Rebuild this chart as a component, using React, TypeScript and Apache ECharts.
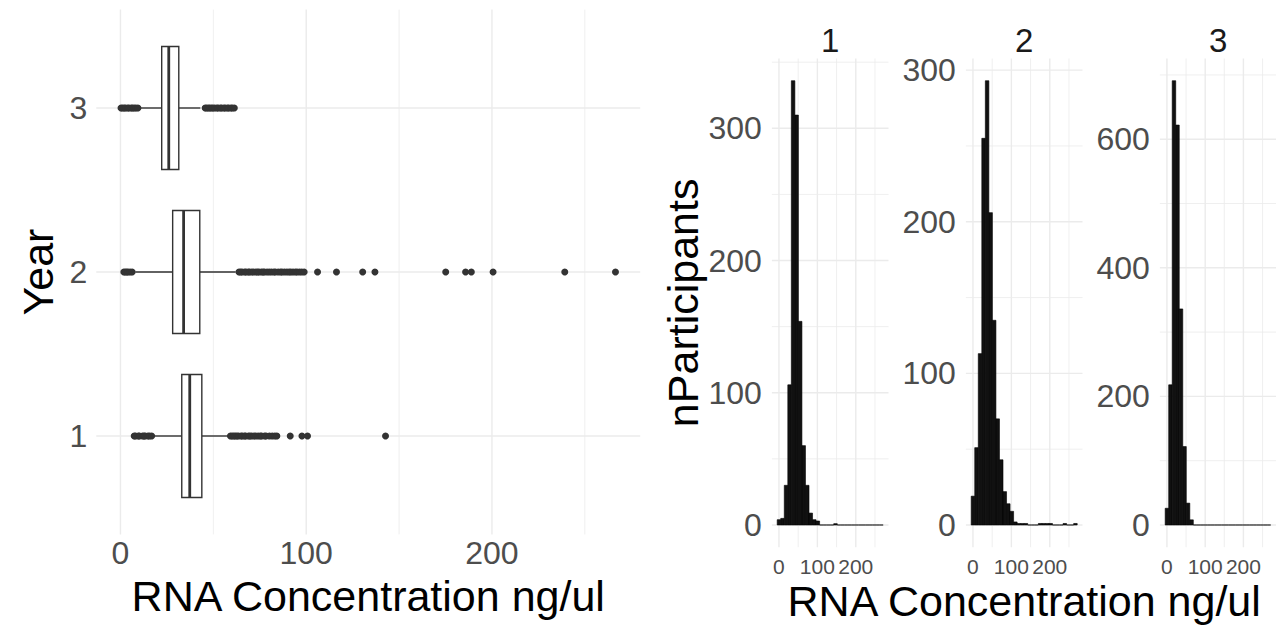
import React, { useEffect, useRef } from 'react';
import * as echarts from 'echarts';

// ---------- data ----------
const YEARS = ['1', '2', '3'];
// [lower whisker, Q1, median, Q3, upper whisker]
const BOX_Y1 = [18, 33, 37.3, 43.8, 58];
const BOX_Y2 = [8, 28.1, 34, 42.7, 62];
const BOX_Y3 = [10.6, 22.2, 26, 31.4, 43];

const OUT_Y1 = [7.4, 8.1, 9.6, 10.2, 11.9, 12.7, 13.3, 14.8, 15.6, 16.8, 59.2, 60.1, 61.0, 61.8, 62.7, 63.5, 64.9, 65.6, 66.8, 67.4, 68.9, 69.7, 70.6, 71.9, 72.8, 74.1, 75.3, 76.0, 77.6, 78.4, 80.2, 81.7, 83.1, 84.2, 91.4, 97.7, 100.7, 142.7];
const OUT_Y2 = [1.8, 2.6, 3.4, 4.1, 5.2, 6.3, 63.8, 64.7, 65.5, 66.9, 67.6, 68.8, 69.5, 70.7, 71.6, 72.9, 73.8, 74.6, 75.9, 76.8, 77.5, 78.9, 80.1, 81.3, 82.6, 83.4, 84.9, 86.2, 87.0, 88.3, 89.6, 90.8, 91.7, 92.9, 94.2, 95.1, 96.4, 97.6, 98.9, 106.1, 116.3, 130.4, 137.0, 175.1, 185.8, 188.9, 200.6, 239.2, 266.5];
const OUT_Y3 = [0.3, 1.1, 2.0, 2.7, 3.9, 4.6, 5.8, 6.5, 7.4, 8.3, 9.4, 45.6, 46.4, 47.3, 48.1, 49.0, 49.8, 50.7, 51.9, 52.6, 53.8, 54.5, 55.7, 56.4, 57.6, 58.3, 59.5, 60.2, 61.3];

const BIN_WIDTH = 9.2;
const BIN_FIRST_EDGE = -4.6;
const COUNTS_Y1 = [4, 5, 30, 106, 336, 310, 154, 60, 30, 9, 4, 3, 0, 0, 0, 0, 1, 0, 0, 0, 0, 0, 0, 0, 0, 0, 0, 0, 0, 0];
const COUNTS_Y2 = [19, 51, 113, 255, 293, 206, 135, 70, 43, 22, 14, 9, 2, 1, 1, 1, 0, 0, 0, 1, 1, 1, 1, 0, 0, 0, 1, 0, 0, 1];
const COUNTS_Y3 = [26, 218, 691, 622, 336, 122, 34, 8, 0, 0, 0, 0, 0, 0, 0, 0, 0, 0, 0, 0, 0, 0, 0, 0, 0, 0, 0, 0, 0, 0];

const BOX_X_TICKS = [0, 100, 200];
const BOX_X_MINOR = [50, 150, 250];
const BOX_Y_TICKS = [1, 2, 3];
const HIST_X_TICKS = [0, 100, 200];
const HIST_X_MINOR = [50, 150, 250];
const HIST_Y_TICKS = [[0, 100, 200, 300], [0, 100, 200, 300], [0, 200, 400, 600]];
const HIST_Y_MINOR = [[50, 150, 250, 350], [50, 150, 250], [100, 300, 500, 700]];

// ---------- style / layout ----------
const FONT = '"Liberation Sans", Arial, Helvetica, sans-serif';
const TICK_COLOR = '#4D4D4D';
const GRID_COLOR = '#EBEBEB';
const BOX_COLOR = '#333333';

const BOX_GRID = { left: 96.3, top: 9.6, width: 543.9, height: 524.8 };
const HIST_LEFTS = [771.9, 965.9, 1159.9];
const HIST_TOP = 58.5;
const HIST_W = 116.6;
const HIST_H = 488.7;

function gridLineSeries(idx: number, dir: 'v' | 'h', values: number[], ref: number, width: number) {
  return {
    type: 'custom',
    xAxisIndex: idx,
    yAxisIndex: idx,
    silent: true,
    z: 1,
    data: values.map((v) => (dir === 'v' ? [v, ref] : [ref, v])),
    encode: { x: 0, y: 1 },
    renderItem: (params: any, api: any) => {
      const cs = params.coordSys;
      const p = api.coord([api.value(0), api.value(1)]);
      const shape =
        dir === 'v'
          ? { x1: p[0], y1: cs.y, x2: p[0], y2: cs.y + cs.height }
          : { x1: cs.x, y1: p[1], x2: cs.x + cs.width, y2: p[1] };
      return { type: 'line', shape, style: { stroke: GRID_COLOR, lineWidth: width } };
    },
  };
}

export default function App() {
  const ref = useRef<HTMLDivElement>(null);

  useEffect(() => {
    if (!ref.current) return;
    const chart = echarts.init(ref.current, undefined, { renderer: 'svg' });

    const boxes = [BOX_Y1, BOX_Y2, BOX_Y3];
    const outs = [OUT_Y1, OUT_Y2, OUT_Y3];
    const counts = [COUNTS_Y1, COUNTS_Y2, COUNTS_Y3];

    const allX = ([] as number[]).concat(...outs, ...boxes);
    const xMin = Math.min(...allX);
    const xMax = Math.max(...allX);
    const xPad = (xMax - xMin) * 0.05;

    const histLo = BIN_FIRST_EDGE;
    const histHi = BIN_FIRST_EDGE + COUNTS_Y1.length * BIN_WIDTH;
    const histPad = (histHi - histLo) * 0.05;

    const boxData = boxes.map((b, i) => [i + 1, ...b]);
    const outData: number[][] = [];
    outs.forEach((arr, i) => arr.forEach((v) => outData.push([v, i + 1])));

    const grids: any[] = [
      { left: BOX_GRID.left, top: BOX_GRID.top, width: BOX_GRID.width, height: BOX_GRID.height },
      ...HIST_LEFTS.map((l) => ({ left: l, top: HIST_TOP, width: HIST_W, height: HIST_H })),
    ];

    const xAxes: any[] = [
      {
        type: 'value',
        gridIndex: 0,
        min: xMin - xPad,
        max: xMax + xPad,
        axisLine: { show: false },
        axisTick: { show: false },
        splitLine: { show: false },
        axisLabel: { customValues: BOX_X_TICKS, fontSize: 32, color: TICK_COLOR, margin: 3, fontFamily: FONT },
        name: 'RNA Concentration ng/ul',
        nameLocation: 'middle',
        nameGap: 26,
        nameTextStyle: { fontSize: 43, color: '#000', fontFamily: FONT },
      },
      ...HIST_LEFTS.map((_, i) => ({
        type: 'value',
        gridIndex: i + 1,
        min: histLo - histPad,
        max: histHi + histPad,
        axisLine: { show: false },
        axisTick: { show: false },
        splitLine: { show: false },
        axisLabel: { customValues: HIST_X_TICKS, fontSize: 21, color: TICK_COLOR, margin: 9, fontFamily: FONT },
      })),
    ];

    const yAxes: any[] = [
      {
        type: 'value',
        gridIndex: 0,
        min: 0.4,
        max: 3.6,
        axisLine: { show: false },
        axisTick: { show: false },
        splitLine: { show: false },
        axisLabel: {
          customValues: BOX_Y_TICKS,
          formatter: (v: number) => YEARS[Math.round(v) - 1],
          fontSize: 32,
          color: TICK_COLOR,
          margin: 9,
          fontFamily: FONT,
        },
        name: 'Year',
        nameLocation: 'middle',
        nameGap: 37,
        nameTextStyle: { fontSize: 43, color: '#000', fontFamily: FONT },
      },
      ...counts.map((c, i) => {
        const m = Math.max(...c);
        return {
          type: 'value',
          gridIndex: i + 1,
          min: -0.05 * m,
          max: 1.05 * m,
          axisLine: { show: false },
          axisTick: { show: false },
          splitLine: { show: false },
          axisLabel: { customValues: HIST_Y_TICKS[i], fontSize: 32, color: TICK_COLOR, margin: 10, fontFamily: FONT },
          ...(i === 0
            ? {
                name: 'nParticipants',
                nameLocation: 'middle',
                nameGap: 67,
                nameTextStyle: { fontSize: 43, color: '#000', fontFamily: FONT },
              }
            : {}),
        };
      }),
    ];

    const series: any[] = [
      gridLineSeries(0, 'v', BOX_X_MINOR, 2, 0.8),
      gridLineSeries(0, 'v', BOX_X_TICKS, 2, 1.4),
      gridLineSeries(0, 'h', BOX_Y_TICKS, 0, 1.4),
      {
        type: 'custom',
        xAxisIndex: 0,
        yAxisIndex: 0,
        z: 3,
        data: boxData,
        encode: { y: 0, x: [1, 2, 3, 4, 5] },
        renderItem: (params: any, api: any) => {
          const y = api.value(0);
          const lo = api.coord([api.value(1), y]);
          const q1 = api.coord([api.value(2), y]);
          const md = api.coord([api.value(3), y]);
          const q3 = api.coord([api.value(4), y]);
          const hi = api.coord([api.value(5), y]);
          const top = api.coord([api.value(2), y + 0.375])[1];
          const bot = api.coord([api.value(2), y - 0.375])[1];
          const ls = { stroke: BOX_COLOR, lineWidth: 1.4 };
          return {
            type: 'group',
            children: [
              { type: 'line', shape: { x1: lo[0], y1: lo[1], x2: q1[0], y2: q1[1] }, style: ls },
              { type: 'line', shape: { x1: q3[0], y1: q3[1], x2: hi[0], y2: hi[1] }, style: ls },
              {
                type: 'rect',
                shape: { x: q1[0], y: top, width: q3[0] - q1[0], height: bot - top },
                style: { fill: '#FFFFFF', stroke: BOX_COLOR, lineWidth: 1.4 },
              },
              { type: 'line', shape: { x1: md[0], y1: top, x2: md[0], y2: bot }, style: { stroke: BOX_COLOR, lineWidth: 2.8 } },
            ],
          };
        },
      },
      {
        type: 'scatter',
        xAxisIndex: 0,
        yAxisIndex: 0,
        z: 4,
        symbolSize: 7,
        itemStyle: { color: BOX_COLOR, opacity: 1 },
        data: outData,
      },
    ];

    counts.forEach((c, i) => {
      const gi = i + 1;
      series.push(gridLineSeries(gi, 'v', HIST_X_MINOR, 0, 0.8));
      series.push(gridLineSeries(gi, 'v', HIST_X_TICKS, 0, 1.4));
      series.push(gridLineSeries(gi, 'h', HIST_Y_MINOR[i], 0, 0.8));
      series.push(gridLineSeries(gi, 'h', HIST_Y_TICKS[i], 0, 1.4));
      series.push({
        type: 'custom',
        xAxisIndex: gi,
        yAxisIndex: gi,
        z: 3,
        data: c.map((v, k) => [BIN_FIRST_EDGE + k * BIN_WIDTH, BIN_FIRST_EDGE + (k + 1) * BIN_WIDTH, v]),
        encode: { x: [0, 1], y: 2 },
        renderItem: (params: any, api: any) => {
          const p0 = api.coord([api.value(0), 0]);
          const p1 = api.coord([api.value(1), api.value(2)]);
          return {
            type: 'rect',
            shape: { x: p0[0], y: p1[1], width: p1[0] - p0[0], height: p0[1] - p1[1] },
            style: { fill: '#111111', stroke: '#000000', lineWidth: 0.6 },
          };
        },
      });
    });

    const graphic: any[] = [
      ...YEARS.map((t, i) => ({
        type: 'text',
        x: HIST_LEFTS[i] + HIST_W / 2,
        y: 40,
        style: { text: t, fontSize: 33, fontFamily: FONT, fill: '#1A1A1A', textAlign: 'center', textVerticalAlign: 'middle' },
      })),
      {
        type: 'text',
        x: (HIST_LEFTS[0] + HIST_LEFTS[2] + HIST_W) / 2,
        y: 601,
        style: {
          text: 'RNA Concentration ng/ul',
          fontSize: 43,
          fontFamily: FONT,
          fill: '#000000',
          textAlign: 'center',
          textVerticalAlign: 'middle',
        },
      },
    ];

    chart.setOption({
      animation: false,
      backgroundColor: '#FFFFFF',
      textStyle: { fontFamily: FONT },
      grid: grids,
      xAxis: xAxes,
      yAxis: yAxes,
      series,
      graphic,
    });

    return () => chart.dispose();
  }, []);

  return (
    <div
      ref={ref}
      style={{ position: 'fixed', left: 0, top: 0, width: 1276, height: 628, background: '#FFFFFF' }}
    />
  );
}
